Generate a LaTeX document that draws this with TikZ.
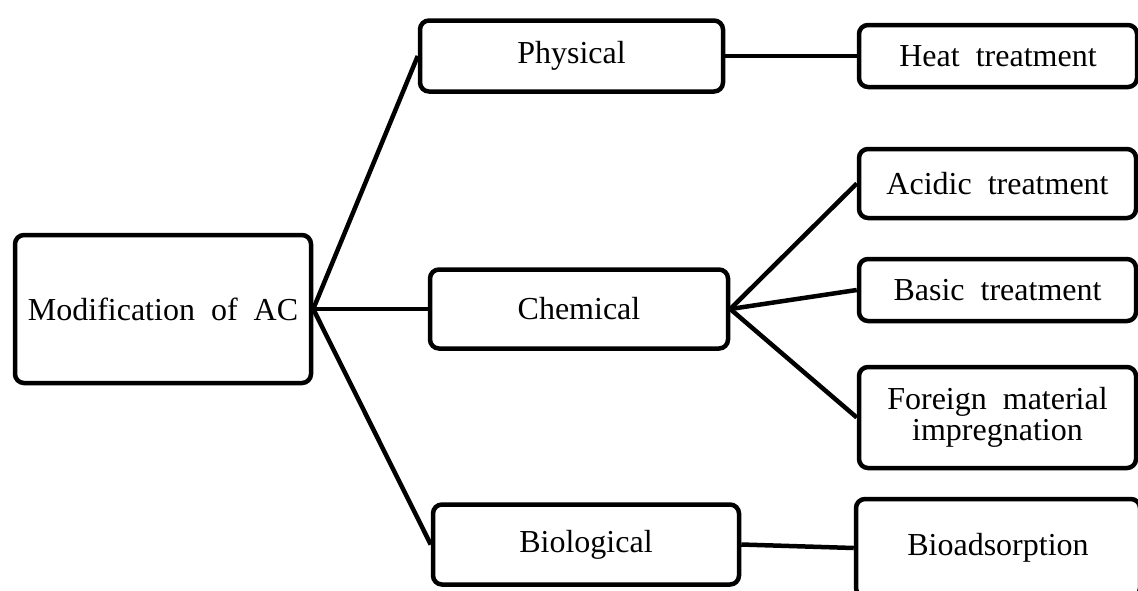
\documentclass[tikz,border=0pt]{standalone}
\usepackage{fontspec}
\setmainfont{Liberation Serif}
\begin{document}
\begin{tikzpicture}[x=1pt,y=-1pt,
  box/.style={draw=black,line width=4.5pt,rounded corners=9pt,fill=white,
    inner sep=0pt,align=center,font=\fontsize{32}{31}\selectfont},
  link/.style={line width=4.5pt,black}]
\useasboundingbox (0,0) rectangle (1138,590);
\clip (0,0) rectangle (1138,590);
\node[box,minimum width=296pt,minimum height=148pt] (mod) at (163,309) {Modification\ \ of\ \ AC};
\node[box,minimum width=303pt,minimum height=71pt] (phy) at (571.5,56) {Physical};
\node[box,minimum width=298pt,minimum height=79pt] (che) at (579,309) {Chemical};
\node[box,minimum width=306pt,minimum height=80pt] (bio) at (586,544.5) {Biological};
\node[box,minimum width=278pt,minimum height=62pt] (heat) at (998,56) {Heat\ \ treatment};
\node[box,minimum width=277pt,minimum height=69pt] (acid) at (997.5,183.5) {Acidic\ \ treatment};
\node[box,minimum width=277pt,minimum height=62pt] (basic) at (997.5,290) {Basic\ \ treatment};
\node[box,minimum width=277pt,minimum height=101pt] (foreign) at (997.5,417.5) {Foreign\ \ material\\impregnation};
\node[box,minimum width=284pt,minimum height=98pt] (bioad) at (998,548) {Bioadsorption};
\draw[link] (mod.east) -- (phy.west);
\draw[link] (mod.east) -- (che.west);
\draw[link] (mod.east) -- (bio.west);
\draw[link] (phy.east) -- (heat.west);
\draw[link] (che.east) -- (acid.west);
\draw[link] (che.east) -- (basic.west);
\draw[link] (che.east) -- (foreign.west);
\draw[link] (bio.east) -- (bioad.west);
\end{tikzpicture}
\end{document}
